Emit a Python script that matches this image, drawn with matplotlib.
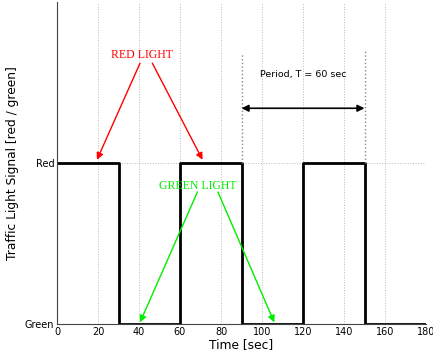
import matplotlib.pyplot as plt

# square-wave traffic light: 1 = red, 0 = green
t = [0, 30, 30, 60, 60, 90, 90, 120, 120, 150, 150, 180]
state = [1, 1, 0, 0, 1, 1, 0, 0, 1, 1, 0, 0]
xticks = [0, 20, 40, 60, 80, 100, 120, 140, 160, 180]
ytick_labels = ["Green", "Red"]

fig = plt.figure(figsize=(4.33, 3.6), dpi=100)
ax = fig.add_axes([57 / 433, 36 / 360, 369 / 433, 322 / 360])

ax.plot(t, state, color="black", lw=2)

ax.set_xlim(0, 180)
ax.set_ylim(0, 2)
ax.set_xticks(xticks)
ax.set_yticks([0, 1])
ax.set_yticklabels(ytick_labels)
ax.tick_params(labelsize=7, length=0, pad=2)
ax.grid(True, ls=":", color="#bbbbbb", lw=0.7)
for side in ["top", "right"]:
    ax.spines[side].set_visible(False)
ax.spines["left"].set_color("#444444")
ax.spines["bottom"].set_color("#444444")

ax.set_xlabel("Time [sec]", fontsize=8.8, labelpad=1)
ax.set_ylabel("Traffic Light Signal [red / green]", fontsize=8.8, labelpad=4)

# period marker
ax.plot([90, 90], [1, 1.68], ls=":", color="#888888", lw=1)
ax.plot([150, 150], [1, 1.7], ls=":", color="#888888", lw=1)
ax.annotate("", xy=(90, 1.34), xytext=(150, 1.34),
            arrowprops=dict(arrowstyle="<|-|>", color="black", lw=1.2,
                            shrinkA=0, shrinkB=0, mutation_scale=10))
ax.text(120, 1.55, "Period, T = 60 sec", ha="center", va="center", fontsize=6.8)

serif = dict(family="Liberation Serif", fontsize=8.5)
ax.text(41.5, 1.67, "RED LIGHT", color="red", ha="center", va="center", **serif)
for tail, tip in [((40.5, 1.62), (19.5, 1.02)), ((46.5, 1.62), (71, 1.02))]:
    ax.annotate("", xy=tip, xytext=tail,
                arrowprops=dict(arrowstyle="-|>", color="red", lw=1,
                                shrinkA=0, shrinkB=0, mutation_scale=10))

ax.text(68.5, 0.86, "GREEN LIGHT", color="#00ee00", ha="center", va="center", **serif)
for tail, tip in [((68.5, 0.82), (40.5, 0.01)), ((78.5, 0.82), (106, 0.01))]:
    ax.annotate("", xy=tip, xytext=tail,
                arrowprops=dict(arrowstyle="-|>", color="#00ee00", lw=1,
                                shrinkA=0, shrinkB=0, mutation_scale=10))

fig.savefig("out.png", dpi=100)
